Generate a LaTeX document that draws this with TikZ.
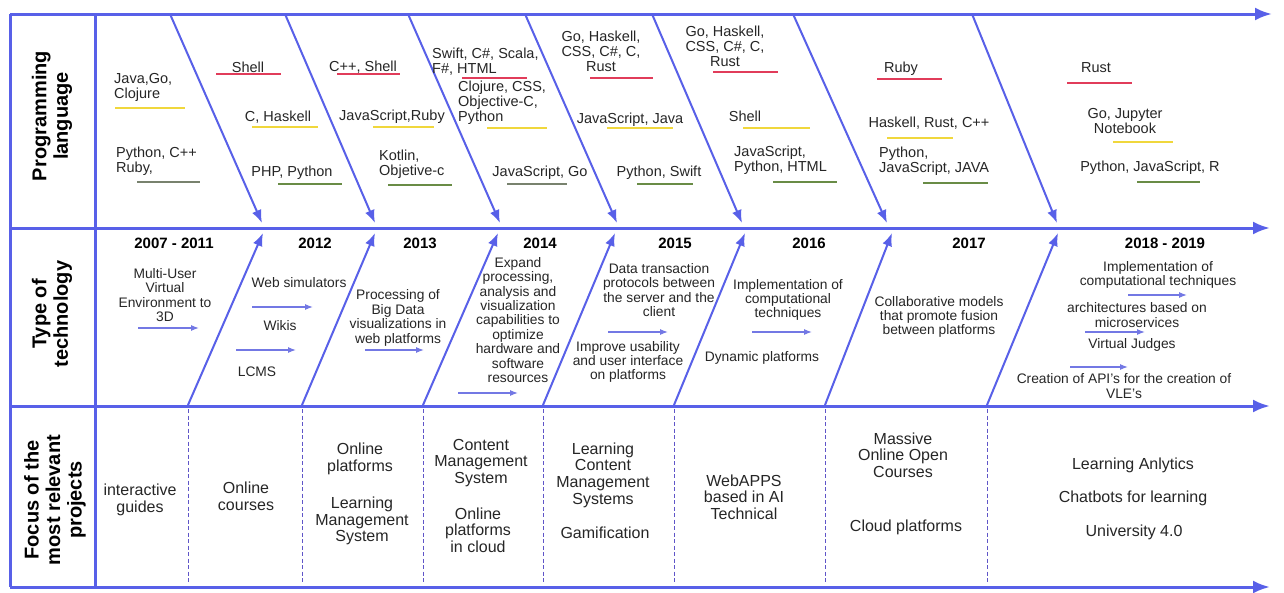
\documentclass[tikz,border=0pt]{standalone}
\usepackage{fontspec}
\setmainfont{Liberation Sans}
\usetikzlibrary{arrows.meta}
\definecolor{ax}{RGB}{88,96,232}
\definecolor{sm}{RGB}{115,120,228}
\definecolor{dsh}{RGB}{95,85,200}
\definecolor{ulr}{RGB}{225,60,90}
\definecolor{uly}{RGB}{240,215,60}
\definecolor{ulg}{RGB}{105,140,70}
\definecolor{ulk}{RGB}{120,130,110}
\tikzset{
  axisarrow/.style={draw=ax, line width=3pt, -{Latex[length=17pt,width=13pt]}},
  diag/.style={draw=ax, line width=2pt, -{Latex[length=13pt,width=10pt]}},
  smallarrow/.style={draw=sm, line width=1.2pt, -{Latex[length=8pt,width=6pt]}},
  border/.style={draw=ax, line width=3pt},
  sep/.style={draw=dsh, line width=1pt, dash pattern=on 4pt off 2.5pt},
  ul/.style={line width=1.2pt},
  ta/.style={font=\fontsize{14.5}{15}\selectfont, inner sep=0pt, align=center, text=black!85},
  tl/.style={ta, align=left, anchor=west},
  tb/.style={font=\fontsize{13.8}{14.4}\selectfont, inner sep=0pt, align=center, text=black!85},
  tc/.style={font=\fontsize{16}{16.7}\selectfont, inner sep=0pt, align=center, text=black!85},
  yr/.style={font=\bfseries\fontsize{15}{16}\selectfont, inner sep=0pt},
  lab/.style={font=\bfseries\fontsize{20}{21.5}\selectfont, rotate=90, align=center, inner sep=0pt}
}
\begin{document}
\begin{tikzpicture}[x=1pt,y=-1pt]
\useasboundingbox[fill=white] (0,0) rectangle (1284,592);
% coordinates
\coordinate (L0) at (10,14);
\coordinate (R0) at (1272,14);
\coordinate (L1) at (10,228);
\coordinate (R1) at (1270,228);
\coordinate (L2) at (10,406);
\coordinate (R2) at (1270,406);
\coordinate (L3) at (10,587);
\coordinate (R3) at (1270,587);
% frame
\draw[border] (10,14) -- (10,587);
\draw[border] (95,14) -- (95,587);
\draw[axisarrow] (L0) -- (R0);
\draw[axisarrow] (L1) -- (R1);
\draw[axisarrow] (L2) -- (R2);
\draw[axisarrow] (L3) -- (R3);
% top diagonal arrows
\foreach \s/\e [count=\i] in {170/262,285/375,408/500,525/617,652/742,793/887,972/1057}{
  \coordinate (ts\i) at (\s,14);
  \coordinate (te\i) at (\e,223);
  \draw[diag] (ts\i) -- (te\i);
}
% middle diagonal arrows
\foreach \s/\e [count=\i] in {188/263,302/375,423/498,543/615,674/745,825/892,987/1058}{
  \coordinate (ms\i) at (\s,405);
  \coordinate (me\i) at (\e,233);
  \draw[diag] (ms\i) -- (me\i);
  \draw[sep] (\s,409) -- (\s,584);
}
% small arrows
\foreach \a/\b/\y in {138/199/328, 252/313/307, 236/296/350, 365/424/350, 458/518/393, 608/668/332, 752/812/332, 1128/1187/295, 1085/1145/332, 1070/1128/367}{
  \draw[smallarrow] (\a,\y) -- (\b,\y);
}
% underlines
\draw[ul,uly] (115,108) -- (185,108);
\draw[ul,ulk] (137,182) -- (200,182);
\draw[ul,ulr] (216,74) -- (281,74);
\draw[ul,uly] (252,127) -- (318,127);
\draw[ul,ulg] (278,184) -- (342,184);
\draw[ul,ulr] (337,74) -- (400,74);
\draw[ul,uly] (373,127) -- (434,127);
\draw[ul,ulg] (388,185) -- (452,185);
\draw[ul,ulr] (462,78) -- (527,78);
\draw[ul,uly] (487,128) -- (547,128);
\draw[ul,ulk] (507,184) -- (567,184);
\draw[ul,ulr] (590,78) -- (653,78);
\draw[ul,uly] (607,128) -- (673,128);
\draw[ul,ulg] (637,184) -- (693,184);
\draw[ul,ulr] (713,72) -- (778,72);
\draw[ul,uly] (743,128) -- (810,128);
\draw[ul,ulg] (773,182) -- (837,182);
\draw[ul,ulr] (877,79) -- (942,79);
\draw[ul,uly] (887,138) -- (953,138);
\draw[ul,ulg] (923,183) -- (988,183);
\draw[ul,ulr] (1067,83) -- (1132,83);
\draw[ul,uly] (1113,142) -- (1173,142);
\draw[ul,ulg] (1137,182) -- (1200,182);
% row labels
\node[lab] (lab1) at (52,116) {Programming\\language};
\node[lab] (lab2) at (52,314) {Type of\\technology};
\node[lab] (lab3) at (55,500) {Focus of the\\most relevant\\projects};
% programming languages
\node[tl] (p1a) at (114,87) {Java,Go,\\Clojure};
\node[tl] (p1b) at (116,161) {Python, C++\\Ruby,};
\node[ta] (p2a) at (248,67) {Shell};
\node[ta] (p2b) at (278,117) {C, Haskell};
\node[ta] (p2c) at (292,173) {PHP, Python};
\node[ta] (p3a) at (363,67) {C++, Shell};
\node[ta] (p3b) at (392,117) {JavaScript,Ruby};
\node[tl] (p3c) at (379,164) {Kotlin,\\Objetive-c};
\node[tl] (p4a) at (432,62) {Swift, C\#, Scala,\\F\#, HTML};
\node[tl] (p4b) at (458,103) {Clojure, CSS,\\Objective-C,\\Python};
\node[ta] (p4c) at (540,173) {JavaScript, Go};
\node[ta] (p5a) at (601,51) {Go, Haskell,\\CSS, C\#, C,\\Rust};
\node[ta] (p5b) at (630,120) {JavaScript, Java};
\node[ta] (p5c) at (659,173) {Python, Swift};
\node[ta] (p6a) at (725,46) {Go, Haskell,\\CSS, C\#, C,\\Rust};
\node[ta] (p6b) at (745,116) {Shell};
\node[tl] (p6c) at (734,160) {JavaScript,\\Python, HTML};
\node[ta] (p7a) at (901,69) {Ruby};
\node[ta] (p7b) at (929,123) {Haskell, Rust, C++};
\node[tl] (p7c) at (879,161) {Python,\\JavaScript, JAVA};
\node[ta] (p8a) at (1096,68) {Rust};
\node[ta] (p8b) at (1125,121) {Go, Jupyter\\Notebook};
\node[ta] (p8c) at (1150,168) {Python, JavaScript, R};
% years
\node[yr] (y1) at (174,243) {2007 - 2011};
\node[yr] (y2) at (315,243) {2012};
\node[yr] (y3) at (420,243) {2013};
\node[yr] (y4) at (540,243) {2014};
\node[yr] (y5) at (675,243) {2015};
\node[yr] (y6) at (809,243) {2016};
\node[yr] (y7) at (969,243) {2017};
\node[yr] (y8) at (1165,243) {2018 - 2019};
% technologies
\node[tb] (k1) at (165,295) {Multi-User\\Virtual\\Environment to\\3D};
\node[tb] (k2a) at (299,283) {Web simulators};
\node[tb] (k2b) at (280,326) {Wikis};
\node[tb] (k2c) at (257,372) {LCMS};
\node[tb] (k3) at (398,318) {Processing of\\Big Data\\visualizations in\\web platforms};
\node[tb] (k4) at (518,320) {Expand\\processing,\\analysis and\\visualization\\capabilities to\\optimize\\hardware and\\software\\resources};
\node[tb] (k5a) at (659,290) {Data transaction\\protocols between\\the server and the\\client};
\node[tb] (k5b) at (628,362) {Improve usability\\and user interface\\on platforms};
\node[tb] (k6a) at (788,300) {Implementation of\\computational\\techniques};
\node[tb] (k6b) at (762,358) {Dynamic platforms};
\node[tb] (k7) at (939,317) {Collaborative models\\that promote fusion\\between platforms};
\node[tb] (k8a) at (1158,275) {Implementation of\\computational techniques};
\node[tb] (k8b) at (1137,315) {architectures based on\\microservices};
\node[tb] (k8c) at (1132,345) {Virtual Judges};
\node[tb] (k8d) at (1124,386) {Creation of API's for the creation of\\VLE's};
% focus
\node[tc] (f1) at (140,500) {interactive\\guides};
\node[tc] (f2) at (246,496) {Online\\courses};
\node[tc] (f3a) at (360,459) {Online\\platforms};
\node[tc] (f3b) at (362,521) {Learning\\Management\\System};
\node[tc] (f4a) at (481,463) {Content\\Management\\System};
\node[tc] (f4b) at (478,530) {Online\\platforms\\in cloud};
\node[tc] (f5a) at (603,475) {Learning\\Content\\Management\\Systems};
\node[tc] (f5b) at (605,533) {Gamification};
\node[tc] (f6) at (744,497) {WebAPPS\\based in AI\\Technical};
\node[tc] (f7a) at (903,455) {Massive\\Online Open\\Courses};
\node[tc] (f7b) at (906,527) {Cloud platforms};
\node[tc] (f8a) at (1133,465) {Learning Anlytics};
\node[tc] (f8b) at (1133,498) {Chatbots for learning};
\node[tc] (f8c) at (1134,532) {University 4.0};
\end{tikzpicture}
\end{document}
